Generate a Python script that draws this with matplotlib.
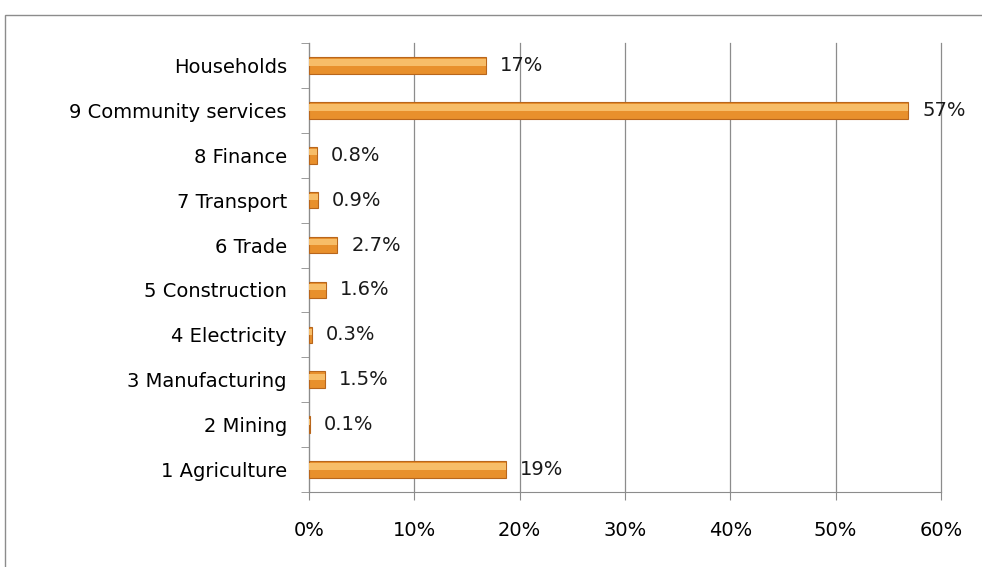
import matplotlib.pyplot as plt
from matplotlib.patches import Rectangle

categories = ["1 Agriculture", "2 Mining", "3 Manufacturing", "4 Electricity",
              "5 Construction", "6 Trade", "7 Transport", "8 Finance",
              "9 Community services", "Households"]
values = [18.7, 0.1, 1.5, 0.3, 1.6, 2.7, 0.9, 0.8, 56.9, 16.8]
labels = ["19%", "0.1%", "1.5%", "0.3%", "1.6%", "2.7%", "0.9%", "0.8%", "57%", "17%"]
xticks = [0, 10, 20, 30, 40, 50, 60]

plt.rcParams['font.family'] = ['DejaVu Sans']

fig = plt.figure(figsize=(9.82, 5.67), dpi=100)
# outer chart border (bottom and right run off the picture)
fig.patches.append(Rectangle((5 / 982, -0.05), 1.2, 1 - 15 / 567 + 0.05,
                             transform=fig.transFigure, fill=False,
                             edgecolor='#8c8c8c', linewidth=1.0))
ax = fig.add_axes([309 / 982, 75 / 567, 632 / 982, 449 / 567])

y = range(len(categories))
h = 0.37
# base bar, darker edge for a bit of depth
ax.barh(y, values, height=h, color='#E8902C', edgecolor='#B8661C', linewidth=0.8, zorder=3)
# lighter highlight on upper part of bar
ax.barh([i + h * 0.18 for i in y], values, height=h * 0.38, color='#F7BD68',
        linewidth=0, zorder=4)

for i, (v, lab) in enumerate(zip(values, labels)):
    ax.text(v + 1.3, i, lab, va='center', ha='left', fontsize=14, color='#1a1a1a', zorder=5)

ax.set_xlim(0, 60)
ax.set_ylim(-0.5, len(categories) - 0.5)
ax.set_xticks(xticks)
ax.set_xticklabels([f"{t}%" for t in xticks], fontsize=14)
ax.set_yticks(list(y))
ax.set_yticklabels(categories, fontsize=14)
ax.set_yticks([i - 0.5 for i in range(len(categories) + 1)], minor=True)
ax.tick_params(axis='y', which='major', length=0, pad=16)
ax.tick_params(axis='y', which='minor', length=6, color='#8c8c8c', direction='out')
ax.tick_params(axis='x', length=6, color='#8c8c8c', pad=15)

ax.grid(axis='x', color='#8c8c8c', linewidth=0.9, zorder=0)
for gl in ax.get_xgridlines():
    gl.set_clip_on(False)
ax.set_axisbelow(True)
for s in ['top', 'right']:
    ax.spines[s].set_visible(False)
for s in ['left', 'bottom']:
    ax.spines[s].set_color('#8c8c8c')

plt.savefig("out.png", dpi=100)
